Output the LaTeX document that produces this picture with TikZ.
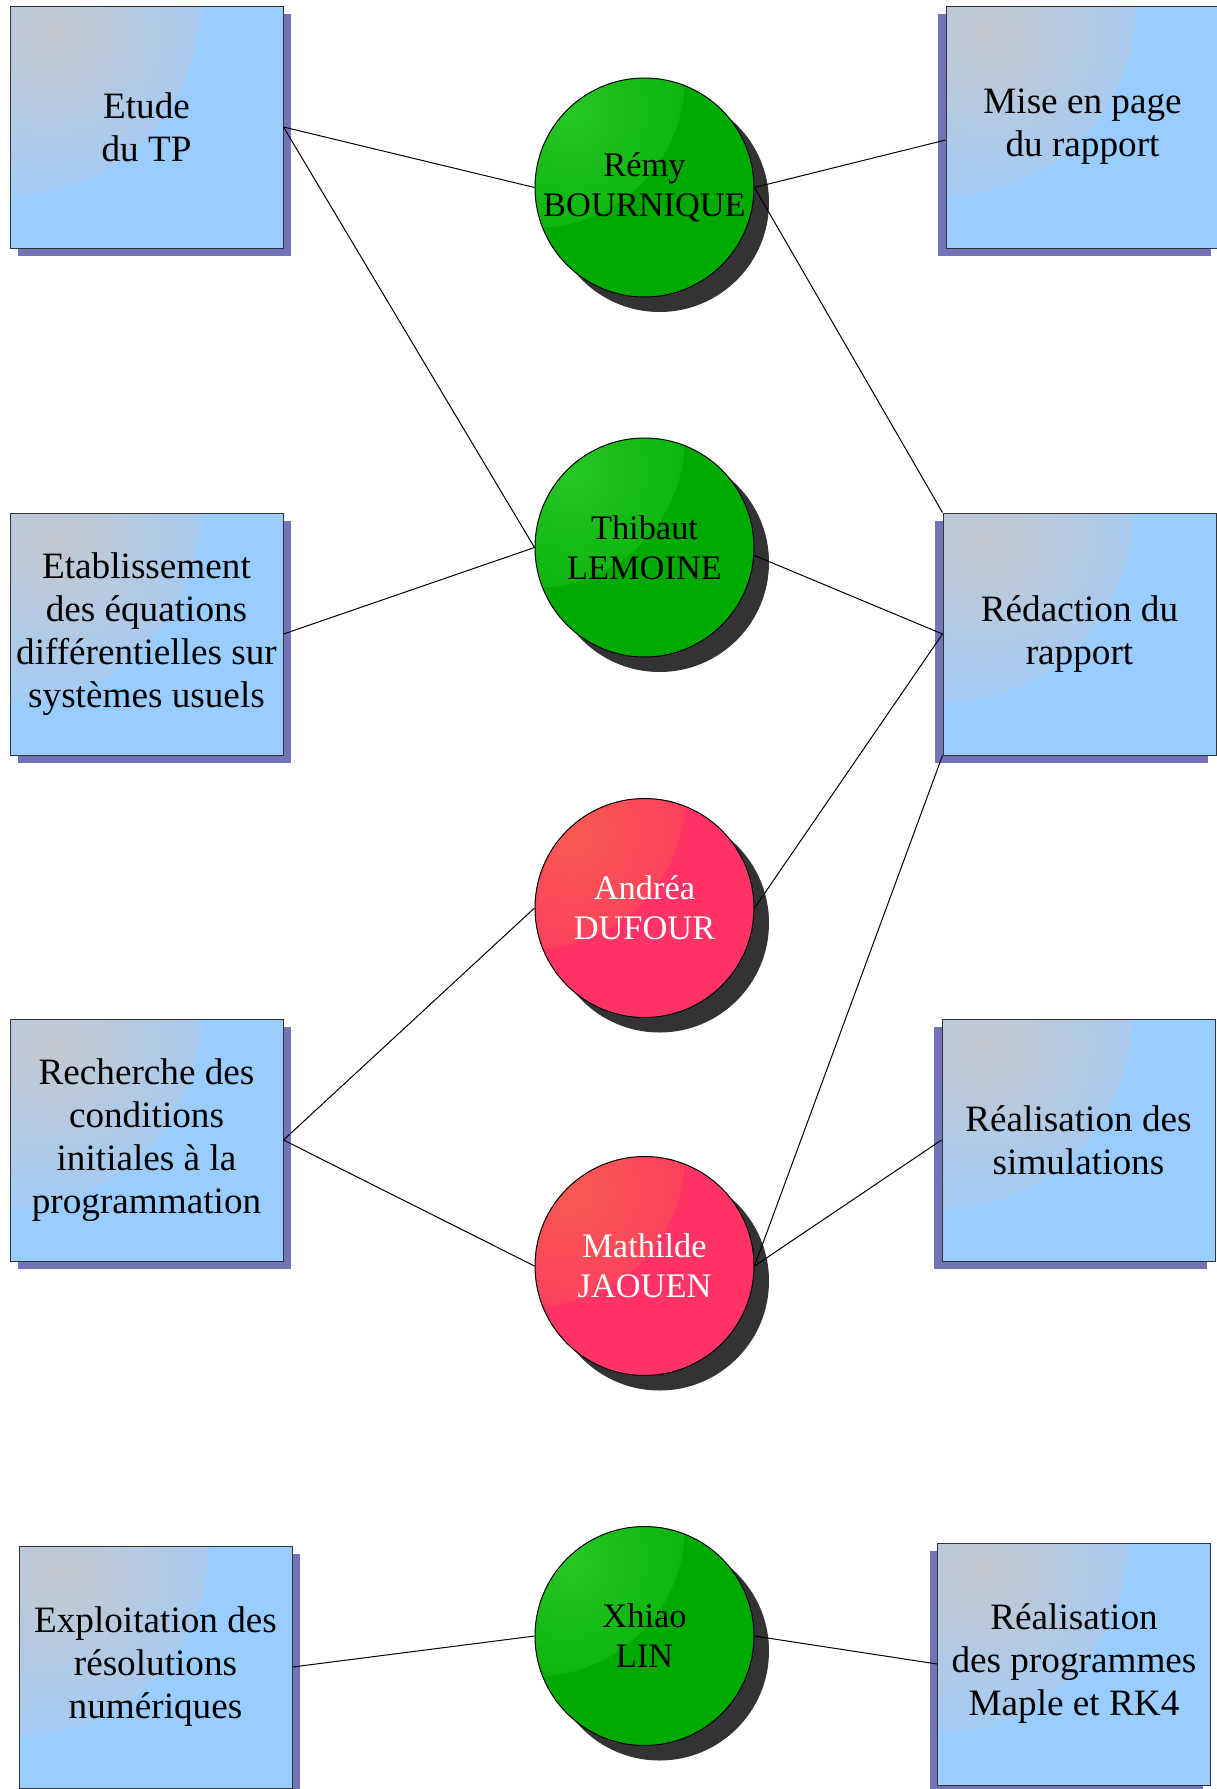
\documentclass[tikz,border=0pt]{standalone}
\usepackage{fontspec}
\setmainfont{Liberation Serif}
\usetikzlibrary{shadows}

\definecolor{boxblue}{HTML}{99CCFF}
\definecolor{boxshadow}{HTML}{7373B8}
\definecolor{boxglow}{HTML}{C4C8D0}
\definecolor{leadgreen}{HTML}{00AA00}
\definecolor{greenglow}{HTML}{26C626}
\definecolor{leadpink}{HTML}{FF3366}
\definecolor{pinkglow}{HTML}{F65A50}
\definecolor{discshadow}{HTML}{333333}

\tikzset{
  task/.style={draw=black!80, line width=0.5pt, fill=boxblue,
    minimum width=136.5pt, minimum height=121pt, inner sep=0pt,
    align=center, font=\fontsize{18.6}{21.5}\selectfont,
    path picture={\shade[inner color=boxglow, outer color=boxblue]
      (path picture bounding box.north west) circle[radius=95pt];}},
  task right/.style={task, drop shadow={shadow xshift=4pt, shadow yshift=-4pt,
    fill=boxshadow, opacity=1}},
  task left/.style={task, drop shadow={shadow xshift=-4pt, shadow yshift=-4pt,
    fill=boxshadow, opacity=1}},
  lead/.style={circle, draw=black, line width=0.5pt, minimum size=109.5pt,
    inner sep=0pt, align=center, font=\fontsize{17.2}{20}\selectfont,
    drop shadow={shadow xshift=7.5pt, shadow yshift=-7.5pt,
      fill=discshadow, opacity=1}},
  green lead/.style={lead, fill=leadgreen,
    path picture={\shade[inner color=greenglow, outer color=leadgreen]
      (path picture bounding box.north west) circle[radius=75pt];}},
  pink lead/.style={lead, fill=leadpink, text=white,
    path picture={\shade[inner color=pinkglow, outer color=leadpink]
      (path picture bounding box.north west) circle[radius=75pt];}},
  link/.style={draw=black, line width=0.5pt}
}

\begin{document}
\begin{tikzpicture}[x=0.5pt, y=-0.5pt]
  \useasboundingbox (0,0) rectangle (1216,1789);
  \fill[white] (0,0) rectangle (1216,1789);

  % tasks, left column
  \node[task right] (etude) at (146.5,127) {Etude\\du TP};
  \node[task right] (equa) at (146.5,634) {Etablissement\\des équations\\différentielles sur\\systèmes usuels};
  \node[task right] (cond) at (146.5,1140) {Recherche des\\conditions\\initiales à la\\programmation};
  \node[task right] (expl) at (155.5,1667) {Exploitation des\\résolutions\\numériques};

  % tasks, right column
  \node[task left] (mise) at (1082.5,127) {Mise en page\\du rapport};
  \node[task left] (redac) at (1079.5,634) {Rédaction du\\rapport};
  \node[task left] (simu) at (1078.5,1140) {Réalisation des\\simulations};
  \node[task left] (prog) at (1074,1664) {Réalisation\\des programmes\\Maple et RK4};

  % team members
  \node[green lead] (remy) at (644.5,187.5) {Rémy\\BOURNIQUE};
  \node[green lead] (thib) at (644.5,547.5) {Thibaut\\LEMOINE};
  \node[pink lead] (andrea) at (644.5,908) {Andréa\\DUFOUR};
  \node[pink lead] (math) at (644.5,1266) {Mathilde\\JAOUEN};
  \node[green lead] (xhiao) at (644.5,1636) {Xhiao\\LIN};

  % who does what
  \draw[link] (etude.east) -- (remy.west);
  \draw[link] (etude.east) -- (thib.west);
  \draw[link] (remy.east) -- ([yshift=-6.5pt]mise.west);
  \draw[link] (remy.east) -- (redac.north west);
  \draw[link] (equa.east) -- (thib.west);
  \draw[link] ([yshift=-4pt]thib.east) -- (redac.west);
  \draw[link] (andrea.east) -- (redac.west);
  \draw[link] (cond.east) -- (andrea.west);
  \draw[link] (cond.east) -- (math.west);
  \draw[link] (math.east) -- (redac.south west);
  \draw[link] (math.east) -- (simu.west);
  \draw[link] (expl.east) -- (xhiao.west);
  \draw[link] (xhiao.east) -- (prog.west);
\end{tikzpicture}
\end{document}
